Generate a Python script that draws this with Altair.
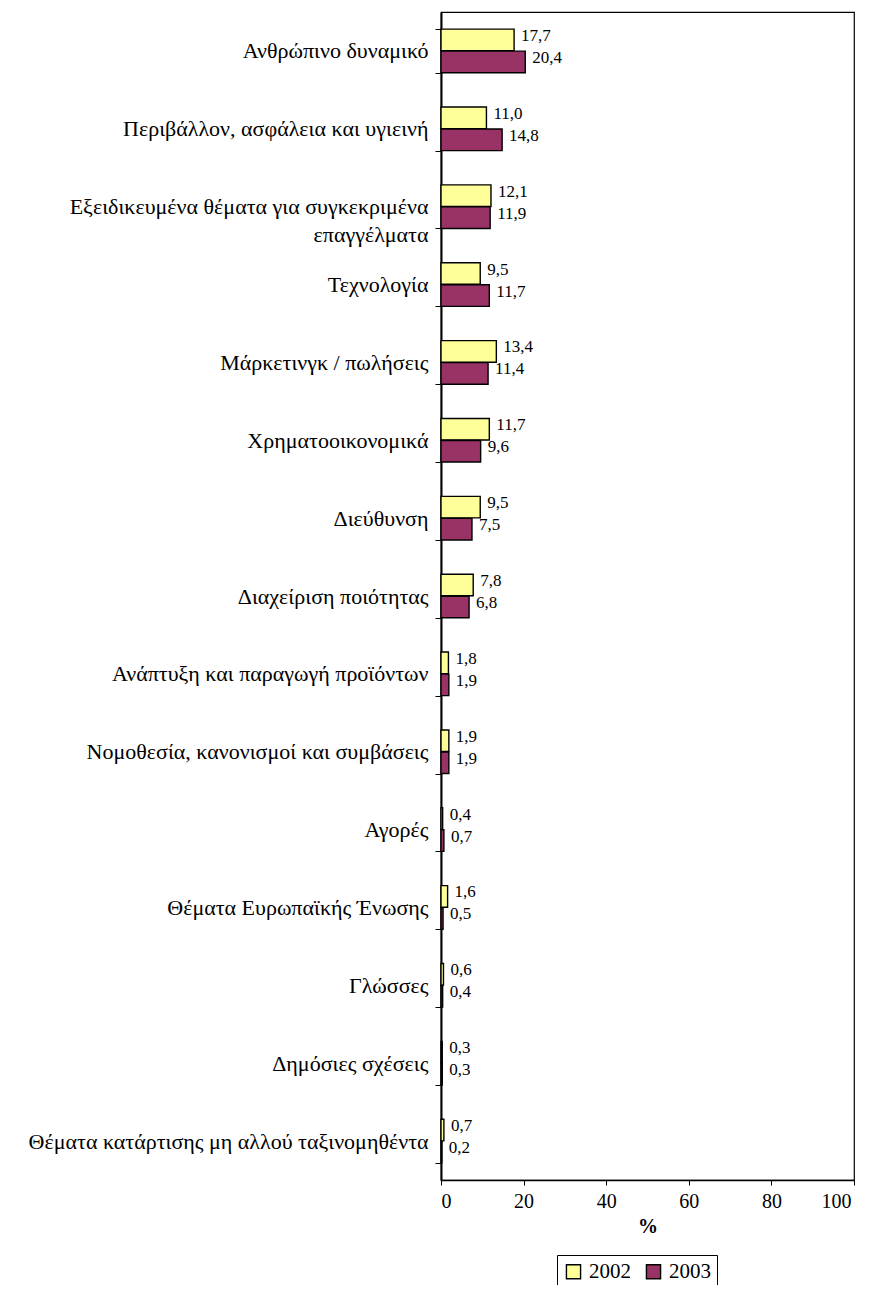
import altair as alt
import pandas as pd

categories = [
    "Ανθρώπινο δυναμικό",
    "Περιβάλλον, ασφάλεια και υγιεινή",
    "Εξειδικευμένα θέματα για συγκεκριμένα|επαγγέλματα",
    "Τεχνολογία",
    "Μάρκετινγκ / πωλήσεις",
    "Χρηματοοικονομικά",
    "Διεύθυνση",
    "Διαχείριση ποιότητας",
    "Ανάπτυξη και παραγωγή προϊόντων",
    "Νομοθεσία, κανονισμοί και συμβάσεις",
    "Αγορές",
    "Θέματα Ευρωπαϊκής Ένωσης",
    "Γλώσσες",
    "Δημόσιες σχέσεις",
    "Θέματα κατάρτισης μη αλλού ταξινομηθέντα",
]
v2002 = [17.7, 11.0, 12.1, 9.5, 13.4, 11.7, 9.5, 7.8, 1.8, 1.9, 0.4, 1.6, 0.6, 0.3, 0.7]
v2003 = [20.4, 14.8, 11.9, 11.7, 11.4, 9.6, 7.5, 6.8, 1.9, 1.9, 0.7, 0.5, 0.4, 0.3, 0.2]
series = ["2002", "2003"]
colors = ["#FFFF99", "#993366"]
x_ticks = [0, 20, 40, 60, 80, 100]

rows = []
for c, a, b in zip(categories, v2002, v2003):
    rows.append({"cat": c, "year": "2002", "v": a})
    rows.append({"cat": c, "year": "2003", "v": b})
df = pd.DataFrame(rows)

FONT = "Liberation Serif"

y = alt.Y("cat:N", sort=categories, title=None,
          scale=alt.Scale(paddingInner=0.44, paddingOuter=0.22),
          axis=alt.Axis(labelExpr="split(datum.label, '|')",
                        labelFont=FONT, labelFontSize=22,
                        labelPadding=7, labelLineHeight=28, labelLimit=0,
                        tickBand="extent", tickSize=6,
                        domainWidth=2))
yoff = alt.YOffset("year:N", scale=alt.Scale(paddingInner=0.02))
x = alt.X("v:Q", scale=alt.Scale(domain=[0, 100]), title="%",
          axis=alt.Axis(values=x_ticks, grid=False,
                        labelFont=FONT, labelFontSize=20,
                        labelOffset={"condition": {"test": "datum.value == 100", "value": -3},
                                     "value": 0},
                        labelPadding=6, tickSize=5, domainWidth=1.5,
                        titleFont=FONT, titleFontSize=20, titleFontWeight="bold",
                        titlePadding=5))

base = alt.Chart(df)
bars = base.mark_bar(stroke="black", strokeWidth=1.4).encode(
    y=y,
    yOffset=yoff,
    x=x,
    color=alt.Color("year:N", scale=alt.Scale(domain=series, range=colors),
                    legend=alt.Legend(title=None, orient="none", legendX=116, legendY=1243,
                                      direction="horizontal", symbolType="square",
                                      symbolSize=200, symbolStrokeColor="black",
                                      symbolStrokeWidth=1.4,
                                      labelFont=FONT, labelFontSize=21,
                                      strokeColor="black", padding=6, columnPadding=12,
                                      labelOffset=5, cornerRadius=0)),
)
labels = base.transform_calculate(
    lbl="replace(format(datum.v, '.1f'), '.', ',')"
).mark_text(align="left", baseline="middle", dx=7, dy=-4, font=FONT, fontSize=17,
            color="black").encode(
    y=y, yOffset=yoff, x=x, text="lbl:N"
)

chart = (bars + labels).properties(
    width=413, height=1168,
    autosize=alt.AutoSizeParams(type="none"),
    padding={"left": 433, "top": 4, "right": 12, "bottom": 105},
).configure(font=FONT).configure_view(stroke="black", strokeWidth=1.2).configure_axis(
    labelFont=FONT, labelColor="black",
    titleFont=FONT, titleColor="black",
    tickColor="black", domainColor="black",
).configure_legend(labelFont=FONT, labelColor="black")

chart.save("out.html", embed_options={"renderer": "svg", "actions": False})
